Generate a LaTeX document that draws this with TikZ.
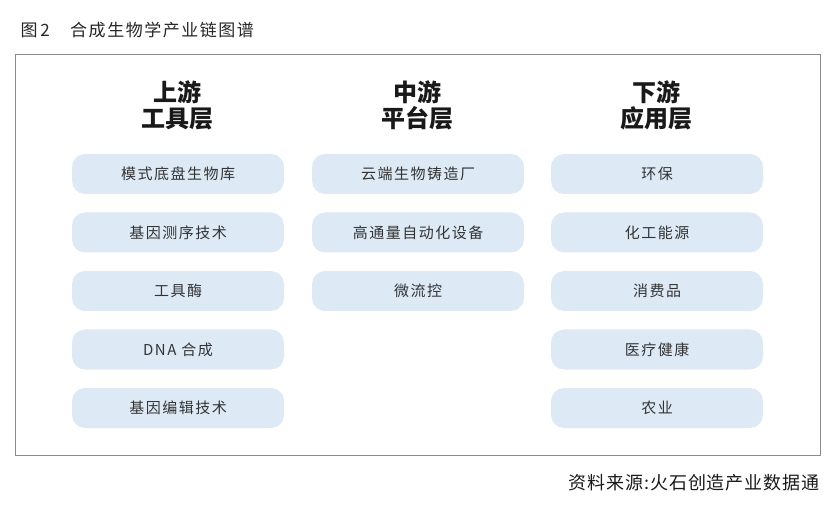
\documentclass[tikz,border=0pt]{standalone}
\usepackage{fontspec}
\setmainfont{Noto Sans CJK SC}
\newfontfamily\cjk{Noto Sans CJK SC}
\newfontfamily\cjksp{Noto Sans CJK SC}[LetterSpace=10]
\newfontfamily\cjkti{Noto Sans CJK SC}[LetterSpace=9]
\newfontfamily\cjkft{Noto Sans CJK SC}[LetterSpace=5]
\definecolor{boxfill}{HTML}{DDEAF6}
\definecolor{frame}{HTML}{8A8A8A}
\definecolor{txt}{HTML}{333333}
\begin{document}
\begin{tikzpicture}[x=1pt,y=-1pt,
  item/.style={fill=boxfill, rounded corners=13pt, minimum width=212pt, minimum height=40pt, inner sep=0pt, text=txt, font=\cjksp\fontsize{15}{17}\selectfont},
  head/.style={align=center, font=\cjk\bfseries\fontsize{24}{26}\selectfont, text=black!90},
  ]
\useasboundingbox (0,0) rectangle (832,510);
\node[anchor=west, font=\cjkti\fontsize{17}{19}\selectfont, text=black!85] (title) at (17,30) {图\,2\hspace{1.2em}合成生物学产业链图谱};
\node[draw=frame, line width=1pt, minimum width=805pt, minimum height=400pt, inner sep=0pt] (frame) at (417.5,255) {};
\node[head] (h1) at (177,105) {上游\\工具层};
\node[head] (h2) at (417,105) {中游\\平台层};
\node[head] (h3) at (656,105) {下游\\应用层};
\node[item] (a1) at (178,174) {模式底盘生物库};
\node[item] (a2) at (178,232.5) {基因测序技术};
\node[item] (a3) at (178,291) {工具酶};
\node[item] (a4) at (178,349.5) {DNA 合成};
\node[item] (a5) at (178,408) {基因编辑技术};
\node[item] (b1) at (418,174) {云端生物铸造厂};
\node[item] (b2) at (418,232.5) {高通量自动化设备};
\node[item] (b3) at (418,291) {微流控};
\node[item] (c1) at (657,174) {环保};
\node[item] (c2) at (657,232.5) {化工能源};
\node[item] (c3) at (657,291) {消费品};
\node[item] (c4) at (657,349.5) {医疗健康};
\node[item] (c5) at (657,408) {农业};
\node[anchor=east, font=\cjkft\fontsize{18}{20}\selectfont, text=black!90] (src) at (823,483) {资料来源:火石创造产业数据通};
\end{tikzpicture}
\end{document}
